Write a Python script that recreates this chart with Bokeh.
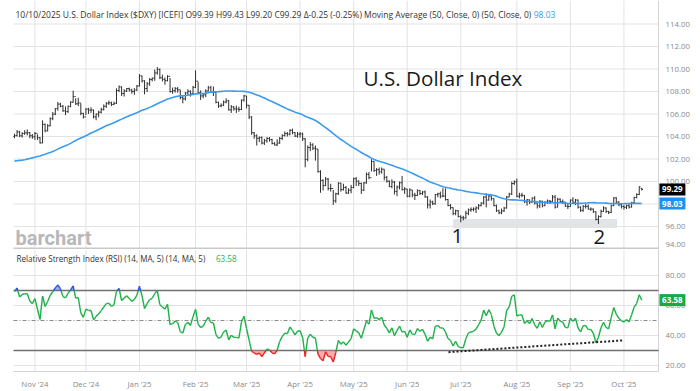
import numpy as np
from bokeh.plotting import figure
from bokeh.layouts import column
from bokeh.models import Label, BoxAnnotation, Range1d, ColumnDataSource
from bokeh.core.properties import value
from bokeh.embed import file_html
from bokeh.resources import INLINE

# ---------------- data ----------------
month_labels = ["Nov '24", "Dec '24", "Jan '25", "Feb '25", "Mar '25", "Apr '25",
                "May '25", "Jun '25", "Jul '25", "Aug '25", "Sep '25", "Oct '25"]
month_start_bar = [8, 28, 49, 71, 91, 112, 133, 154, 175, 197, 218, 239]
price_ticks = [94, 96, 98, 100, 102, 104, 106, 108, 110, 112, 114]
rsi_ticks = [20, 40, 60, 80]

# closes before the first visible bar (warm-up for the 50-day average and RSI)
prior_closes = [103.14, 102.62, 102.63, 103.04, 102.42, 101.86, 101.43, 101.09, 101.50, 100.72,
                100.87, 100.54, 101.09, 101.35, 101.70, 101.83, 101.36, 101.10, 101.18, 101.63,
                101.63, 101.68, 101.35, 101.11, 100.75, 100.89, 100.62, 101.37, 100.72, 100.85,
                100.36, 100.92, 100.56, 100.38, 100.78, 101.20, 101.68, 101.99, 102.52, 102.54,
                102.53, 102.90, 102.99, 102.89, 103.29, 103.25, 103.58, 103.83, 103.49, 104.01]

closes = [
    104.08, 104.41, 104.06, 104.26, 104.32, 104.33, 104.07, 103.97,
    104.28, 103.89, 103.43, 105.08, 104.51, 104.95, 105.59, 105.99, 106.48, 106.88, 106.69, 106.28,
    106.21, 106.68, 107.05, 107.55, 106.91, 106.98, 106.06, 105.74,
    106.44, 106.35, 106.35, 105.74, 105.99, 106.16, 106.41, 106.69, 106.96, 106.99, 106.84, 106.95,
    108.09, 108.41, 107.82, 108.04, 108.26, 108.13, 108.00, 108.13, 108.49,
    109.39, 108.95, 108.26, 108.68, 109.06, 109.18, 109.65, 109.96, 109.22, 109.08, 108.96, 109.35,
    108.00, 108.07, 108.25, 108.15, 107.46, 107.35, 107.87, 108.02, 107.80, 108.37,
    108.92, 107.91, 107.61, 107.70, 108.04, 108.33, 107.96, 107.94, 107.04, 106.71, 106.78, 107.06,
    107.17, 106.37, 106.63, 106.45, 106.45, 106.40, 107.24, 107.61,
    106.78, 105.74, 104.33, 104.06, 103.84, 103.91, 103.42, 103.62, 103.82, 103.72, 103.38, 103.25,
    103.42, 103.83, 104.09, 104.26, 104.21, 104.55, 104.34, 104.04, 104.21,
    104.23, 103.80, 101.96, 103.02, 103.26, 102.96, 102.89, 100.87, 100.10, 99.64, 100.22, 99.38,
    99.38, 98.28, 98.91, 99.85, 99.28, 99.47, 98.98, 99.23, 99.47,
    100.25, 100.03, 99.83, 99.23, 99.88, 100.63, 100.34, 101.79, 100.99, 101.05, 100.86, 101.09,
    100.37, 100.03, 99.55, 99.95, 99.11, 99.51, 99.89, 99.28, 99.33,
    98.69, 99.25, 98.81, 98.76, 99.19, 98.94, 99.07, 98.63, 97.92, 98.18, 98.02, 98.84,
    98.90, 98.70, 98.71, 98.40, 97.86, 97.68, 97.16, 97.40, 96.88,
    96.78, 96.76, 97.18, 97.47, 97.52, 97.55, 97.65, 97.85, 98.08, 98.62, 98.35, 98.71,
    98.48, 97.85, 97.40, 97.21, 97.38, 97.64, 98.62, 98.89, 99.82, 99.97,
    98.69, 98.78, 98.77, 98.19, 98.38, 98.18, 98.52, 98.09, 97.84, 98.24, 97.85, 98.17,
    98.27, 98.23, 98.62, 97.72, 98.43, 98.22, 98.16, 97.80, 97.77,
    98.35, 98.15, 98.35, 97.72, 97.44, 97.79, 97.79, 97.54, 97.55, 97.31, 96.63, 96.88,
    97.35, 97.65, 97.33, 97.25, 97.86, 98.55, 98.18, 97.93, 97.78,
    97.71, 97.85, 97.72, 98.11, 98.58, 98.85, 99.54, 99.29]

opens = [
    104.01, 104.08, 104.41, 104.06, 104.26, 104.32, 104.33, 104.07,
    103.97, 104.28, 103.89, 103.43, 105.08, 104.51, 104.95, 105.59, 105.99, 106.48, 106.88, 106.69,
    106.28, 106.21, 106.68, 107.05, 107.55, 106.91, 106.98, 106.06,
    105.74, 106.44, 106.35, 106.35, 105.74, 105.99, 106.16, 106.41, 106.69, 106.96, 106.99, 106.84,
    106.95, 108.09, 108.41, 107.82, 108.04, 108.26, 108.13, 108.00, 108.13,
    108.49, 109.39, 108.95, 108.26, 108.68, 109.06, 109.18, 109.65, 109.96, 109.22, 109.08, 108.96,
    109.35, 108.00, 108.07, 108.25, 108.15, 107.46, 107.35, 107.87, 108.02, 107.80,
    108.37, 108.92, 107.91, 107.61, 107.70, 108.04, 108.33, 107.96, 107.94, 107.04, 106.71, 106.78,
    107.06, 107.17, 106.37, 106.63, 106.45, 106.45, 106.40, 107.24,
    107.61, 106.78, 105.74, 104.33, 104.06, 103.84, 103.91, 103.42, 103.62, 103.82, 103.72, 103.38,
    103.25, 103.42, 103.83, 104.09, 104.26, 104.21, 104.55, 104.34, 104.04,
    104.21, 104.23, 103.80, 101.96, 103.02, 103.26, 102.96, 102.89, 100.87, 100.10, 99.64, 100.22,
    99.38, 99.38, 98.28, 98.91, 99.85, 99.28, 99.47, 98.98, 99.23,
    99.47, 100.25, 100.03, 99.83, 99.23, 99.88, 100.63, 100.34, 101.79, 100.99, 101.05, 100.86,
    101.09, 100.37, 100.03, 99.55, 99.95, 99.11, 99.51, 99.89, 99.28,
    99.33, 98.69, 99.25, 98.81, 98.76, 99.19, 98.94, 99.07, 98.63, 97.92, 98.18, 98.02,
    98.84, 98.90, 98.70, 98.71, 98.40, 97.86, 97.68, 97.16, 97.40,
    96.88, 96.78, 96.76, 97.18, 97.47, 97.52, 97.55, 97.65, 97.85, 98.08, 98.62, 98.35,
    98.71, 98.48, 97.85, 97.40, 97.21, 97.38, 97.64, 98.62, 98.89, 99.82,
    99.97, 98.69, 98.78, 98.77, 98.19, 98.38, 98.18, 98.52, 98.09, 97.84, 98.24, 97.85,
    98.17, 98.27, 98.23, 98.62, 97.72, 98.43, 98.22, 98.16, 97.80,
    97.77, 98.35, 98.15, 98.35, 97.72, 97.44, 97.79, 97.79, 97.54, 97.55, 97.31, 96.63,
    96.88, 97.35, 97.65, 97.33, 97.25, 97.86, 98.55, 98.18, 97.93,
    97.78, 97.71, 97.85, 97.72, 98.11, 98.58, 98.85, 99.39]

highs = [
    104.25, 104.57, 104.50, 104.38, 104.57, 104.63, 104.40, 104.22,
    104.40, 104.20, 103.95, 105.44, 105.15, 105.10, 105.70, 106.17, 106.53, 107.07, 107.00, 106.80,
    106.67, 106.75, 107.13, 108.07, 107.40, 107.45, 106.95, 106.10,
    106.51, 106.55, 106.60, 106.40, 106.05, 106.30, 106.55, 106.85, 107.05, 107.18, 107.10, 107.10,
    108.27, 108.54, 108.45, 108.20, 108.30, 108.35, 108.24, 108.30, 108.58,
    109.54, 109.40, 109.00, 108.85, 109.20, 109.25, 109.95, 110.18, 110.05, 109.50, 109.25, 109.45,
    109.20, 108.35, 108.40, 108.40, 108.15, 107.65, 107.95, 108.20, 108.10, 108.50,
    109.88, 108.85, 108.10, 107.85, 108.20, 108.50, 108.50, 108.45, 107.95, 107.10, 106.95, 107.20,
    107.40, 107.25, 106.80, 106.70, 106.75, 106.65, 107.30, 107.70,
    107.60, 106.80, 105.80, 104.40, 104.20, 104.00, 104.00, 103.80, 103.95, 103.95, 103.80, 103.50,
    103.75, 103.95, 104.20, 104.45, 104.40, 104.65, 104.70, 104.40, 104.40,
    104.40, 104.35, 103.85, 103.20, 103.50, 103.40, 103.20, 102.90, 101.00, 100.20, 100.40, 100.30,
    99.80, 99.25, 99.00, 99.95, 99.90, 99.80, 99.60, 99.40, 99.70,
    100.35, 100.40, 100.10, 99.90, 99.95, 100.80, 100.85, 101.98, 101.80, 101.20, 101.25, 101.25,
    101.10, 100.50, 100.10, 100.20, 100.05, 99.65, 100.00, 100.50, 99.50,
    99.35, 99.40, 99.25, 99.00, 99.30, 99.25, 99.15, 99.20, 98.70, 98.40, 98.30, 98.90,
    99.00, 99.10, 99.40, 99.40, 98.45, 98.00, 97.70, 97.50, 97.45,
    97.00, 96.95, 97.40, 97.60, 97.70, 97.70, 97.80, 98.00, 98.15, 98.70, 98.95, 98.80,
    98.75, 98.50, 97.95, 97.50, 97.60, 97.75, 98.70, 99.00, 99.99, 100.10,
    100.26, 99.00, 99.00, 98.80, 98.45, 98.40, 98.60, 98.70, 98.10, 98.35, 98.30, 98.25,
    98.40, 98.35, 98.80, 98.80, 98.55, 98.50, 98.40, 98.20, 98.05,
    98.40, 98.60, 98.45, 98.40, 97.80, 97.90, 98.00, 97.95, 97.70, 97.60, 97.35, 97.00,
    97.50, 97.80, 97.70, 97.40, 97.95, 98.60, 98.60, 98.25, 98.10,
    97.90, 97.95, 98.00, 98.20, 98.65, 98.95, 99.56, 99.43]

lows = [
    103.85, 104.00, 103.95, 103.90, 104.15, 104.10, 103.85, 103.80,
    103.70, 103.70, 103.37, 103.40, 104.37, 104.45, 104.90, 105.45, 105.90, 106.30, 106.60, 106.20,
    105.90, 106.10, 106.60, 107.00, 106.80, 106.70, 105.90, 105.60,
    105.90, 106.00, 106.10, 105.60, 105.45, 105.70, 106.05, 106.30, 106.55, 106.80, 106.70, 106.80,
    106.90, 107.95, 107.60, 107.55, 107.95, 108.00, 107.80, 107.70, 108.05,
    108.45, 108.80, 107.75, 107.95, 108.50, 108.90, 108.95, 109.50, 109.10, 108.90, 108.60, 108.90,
    107.90, 107.80, 107.90, 107.90, 107.30, 106.95, 107.20, 107.70, 107.55, 107.75,
    108.30, 107.80, 107.25, 107.40, 107.50, 108.00, 107.90, 107.60, 106.95, 106.55, 106.60, 106.70,
    106.95, 106.30, 106.10, 106.30, 106.10, 106.20, 106.35, 107.10,
    106.50, 105.55, 104.15, 103.80, 103.20, 103.50, 103.30, 103.25, 103.45, 103.55, 103.30, 103.20,
    103.15, 103.35, 103.70, 104.00, 104.00, 104.10, 104.20, 103.95, 103.90,
    103.90, 103.60, 101.26, 101.80, 102.70, 102.80, 101.85, 100.80, 99.00, 99.20, 99.60, 99.20,
    99.10, 97.92, 98.10, 98.80, 99.10, 99.20, 98.90, 98.90, 98.95,
    99.40, 99.60, 99.60, 98.90, 99.15, 99.80, 100.20, 100.90, 100.85, 100.50, 100.60, 100.70,
    100.10, 99.90, 99.50, 99.40, 98.85, 98.70, 99.30, 99.20, 98.90,
    98.60, 98.60, 98.60, 98.35, 98.70, 98.80, 98.80, 98.55, 97.60, 97.60, 97.90, 97.95,
    98.60, 98.50, 98.60, 98.30, 97.80, 97.50, 97.00, 97.00, 96.80,
    96.37, 96.55, 96.70, 97.00, 97.30, 97.35, 97.20, 97.50, 97.80, 97.95, 97.70, 98.30,
    98.30, 97.80, 97.30, 97.10, 97.10, 97.30, 97.60, 98.60, 98.80, 99.70,
    98.60, 98.50, 98.60, 98.10, 97.85, 98.00, 98.10, 97.95, 97.60, 97.65, 97.70, 97.80,
    98.00, 98.00, 98.20, 97.60, 97.70, 98.10, 98.00, 97.75, 97.55,
    97.75, 98.10, 97.90, 97.60, 97.30, 97.30, 97.60, 97.50, 97.40, 97.20, 96.55, 96.22,
    96.80, 97.30, 97.20, 97.10, 97.20, 97.80, 98.10, 97.80, 97.60,
    97.50, 97.55, 97.60, 97.70, 98.00, 98.50, 98.80, 99.20]

ma_period = 50
rsi_period = 14
header_main = ("10/10/2025 U.S. Dollar Index ($DXY) [ICEFI] O99.39 H99.43 L99.20 C99.29 "
               "\u0394-0.25 (-0.25%) Moving Average (50, Close, 0)  (50, Close, 0)")
header_ma_value = "98.03"
rsi_title = "Relative Strength Index (RSI) (14, MA, 5)  (14, MA, 5)"
rsi_value = "63.58"
last_close_label = "99.29"
rsi_last = 63.58

# ---------------- derived indicators ----------------
all_c = np.array(prior_closes + closes, dtype=float)
n_prior = len(prior_closes)
N = len(closes)
bars = np.arange(N)
ma = np.array([all_c[n_prior + i - ma_period + 1: n_prior + i + 1].mean() for i in range(N)])

d = np.diff(all_c)
gain = np.where(d > 0, d, 0.0)
loss = np.where(d < 0, -d, 0.0)
ag = gain[:rsi_period].mean()
al = loss[:rsi_period].mean()
rsi_all = [np.nan] * (rsi_period + 1)
for k in range(rsi_period, len(d)):
    ag = (ag * (rsi_period - 1) + gain[k]) / rsi_period
    al = (al * (rsi_period - 1) + loss[k]) / rsi_period
    rsi_all.append(100 - 100 / (1 + ag / al) if al > 0 else 100)
rsi_all = np.array(rsi_all[:len(all_c)])
rsi = rsi_all[n_prior:]

# ---------------- layout constants ----------------
FONT = "Open Sans"
GRID = "#e3e3e3"
AXIS_LINE = "#d4d4d4"
AXIS_TXT = "#8a8a8a"
BLUE = "#3b9bef"
GREEN = "#1fb14a"

W = 700
H_TOP, H_RSI = 249, 142
PX_BAR = 2.55            # pixels per bar
PX_PRICE = 11.25         # pixels per index point
PX_RSI = 1.5             # pixels per RSI point
X0 = -14 / PX_BAR
X1 = X0 + W / PX_BAR
PLOT_L, PLOT_R = -0.39, 252.55
LABEL_X = 255.3
TAG_X, TAG_W = 258.0, 10.2
PY_TOP = 116.089
PY_BOT = PY_TOP - H_TOP / PX_PRICE
RY_TOP = 97.33
RY_BOT = RY_TOP - H_RSI / PX_RSI
R_PLOT_BOT = 16.0
DATE_Y = 7.6


def make_fig(h, yr):
    f = figure(width=W, height=h, x_range=Range1d(X0, X1), y_range=Range1d(*yr),
               output_backend="svg", toolbar_location=None, x_axis_location=None,
               y_axis_location=None, min_border=0, outline_line_color=None)
    f.grid.visible = False
    return f


# ---------------- price panel ----------------
p = make_fig(H_TOP, (PY_BOT, PY_TOP))
n_pt = len(price_ticks)
p.segment(x0=[PLOT_L] * n_pt, y0=price_ticks, x1=[PLOT_R] * n_pt, y1=price_ticks,
          line_color=GRID, line_width=1)
p.segment(x0=month_start_bar, y0=[PY_BOT] * 12, x1=month_start_bar, y1=[PY_TOP] * 12,
          line_color=GRID, line_width=1)
p.segment(x0=[PLOT_R], y0=[PY_BOT], x1=[PLOT_R], y1=[PY_TOP], line_color=AXIS_LINE, line_width=1)
# keep the lowest tick label inside the panel (it sits on the panel edge)
label_y = [max(t, PY_BOT + 0.45) for t in price_ticks]
p.text(x=[LABEL_X] * n_pt, y=label_y, text=["%.2f" % t for t in price_ticks],
       text_font=value(FONT), text_font_size="7.8px", text_color=AXIS_TXT,
       text_baseline="middle", text_align="left")

# support zone
box = dict(left=172.2, right=236.1, bottom=95.91, top=96.62)
p.add_layout(BoxAnnotation(left=box["left"], right=box["right"], bottom=box["bottom"], top=box["top"],
                           fill_color="#e4e4e4", fill_alpha=1.0, line_color="#5aa0e6",
                           line_dash="1 1", line_width=1, level="underlay"))

src = ColumnDataSource(dict(x=bars, o=opens, h=highs, l=lows, c=closes,
                            xl=bars - 0.45, xr=bars + 0.45))
bar_col = "#2e2e2e"
p.segment(x0="x", y0="l", x1="x", y1="h", source=src, line_color=bar_col, line_width=1)
p.segment(x0="xl", y0="o", x1="x", y1="o", source=src, line_color=bar_col, line_width=1)
p.segment(x0="x", y0="c", x1="xr", y1="c", source=src, line_color=bar_col, line_width=1)
p.line(bars, ma, line_color=BLUE, line_width=1.6)

p.add_layout(Label(x=173.7, y=95.2, text="1", text_font=FONT, text_font_size="20.5px",
                   text_color="#1a1a1a", text_align="center", text_baseline="middle"))
p.add_layout(Label(x=229.4, y=95.05, text="2", text_font=FONT, text_font_size="20.5px",
                   text_color="#1a1a1a", text_align="center", text_baseline="middle"))
p.add_layout(Label(x=136.9, y=109.24, text="U.S. Dollar Index", text_font=FONT,
                   text_font_size="20.6px", text_color="#1a1a1a", text_baseline="middle"))
p.add_layout(Label(x=0.39, y=114.84, text=header_main, text_font=FONT, text_font_size="8.5px",
                   text_color="#333333", text_baseline="middle"))
p.add_layout(Label(x=203.6, y=114.84, text=header_ma_value, text_font=FONT, text_font_size="8.5px",
                   text_color=BLUE, text_baseline="middle"))
p.add_layout(Label(x=0.39, y=94.98, text="barchart", text_font="Roboto", text_font_size="20px",
                   text_font_style="bold", text_color="#b8b8b8", text_baseline="middle"))
# panel separator
p.segment(x0=[PLOT_L], y0=[PY_BOT + 0.09], x1=[PLOT_R], y1=[PY_BOT + 0.09],
          line_color="#c9c9c9", line_width=2)

# last-value tags on the price scale
tag_y = [closes[-1], ma[-1]]
p.rect(x=[TAG_X] * 2, y=tag_y, width=TAG_W, height=12 / PX_PRICE,
       fill_color=["black", "#1e90f0"], line_color=None)
p.text(x=[TAG_X] * 2, y=tag_y, text=[last_close_label, header_ma_value], text_font=value(FONT),
       text_font_size="8px", text_font_style="bold", text_color="white",
       text_align="center", text_baseline="middle")

# ---------------- RSI panel ----------------
r = make_fig(H_RSI, (RY_BOT, RY_TOP))
n_rt = len(rsi_ticks)
r.segment(x0=[PLOT_L] * n_rt, y0=rsi_ticks, x1=[PLOT_R] * n_rt, y1=rsi_ticks,
          line_color=GRID, line_width=1)
r.segment(x0=month_start_bar, y0=[R_PLOT_BOT] * 12, x1=month_start_bar, y1=[RY_TOP] * 12,
          line_color=GRID, line_width=1)
r.segment(x0=[PLOT_R], y0=[R_PLOT_BOT], x1=[PLOT_R], y1=[RY_TOP], line_color=AXIS_LINE, line_width=1)
r.segment(x0=[PLOT_L], y0=[R_PLOT_BOT], x1=[PLOT_R], y1=[R_PLOT_BOT], line_color=AXIS_LINE,
          line_width=1)
r.text(x=[LABEL_X] * n_rt, y=rsi_ticks, text=["%.2f" % t for t in rsi_ticks],
       text_font=value(FONT), text_font_size="7.8px", text_color=AXIS_TXT,
       text_baseline="middle", text_align="left")
r.text(x=month_start_bar, y=[DATE_Y] * 12, text=month_labels, text_font=value(FONT),
       text_font_size="7.8px", text_color=AXIS_TXT, text_baseline="middle", text_align="center")

r.segment(x0=[PLOT_L] * 2, y0=[70, 30], x1=[PLOT_R] * 2, y1=[70, 30],
          line_color="#707070", line_width=1.4)
r.segment(x0=[PLOT_L], y0=[50], x1=[PLOT_R], y1=[50], line_color="#8a8a8a", line_width=1,
          line_dash="4 2 1 2")

# split RSI path at the 70 / 30 levels for colouring
dx, dy = [], []
sx0, sy0, sx1, sy1, scol = [], [], [], [], []
for i in range(N - 1):
    xa, ya, xb, yb = bars[i], rsi[i], bars[i + 1], rsi[i + 1]
    pts = [(float(xa), float(ya))]
    for lvl in (70, 30):
        if (ya - lvl) * (yb - lvl) < 0:
            t = (lvl - ya) / (yb - ya)
            pts.append((xa + t * (xb - xa), float(lvl)))
    pts.sort()
    pts.append((float(xb), float(yb)))
    for (xq0, yq0), (xq1, yq1) in zip(pts[:-1], pts[1:]):
        mid = (yq0 + yq1) / 2
        sx0.append(xq0); sy0.append(yq0); sx1.append(xq1); sy1.append(yq1)
        scol.append("#2b55e0" if mid > 70 else ("#f02020" if mid < 30 else GREEN))
    for pt in pts[:-1]:
        dx.append(pt[0]); dy.append(pt[1])
dx.append(float(bars[-1])); dy.append(float(rsi[-1]))
dx = np.array(dx); dy = np.array(dy)
r.varea(x=dx, y1=np.full_like(dy, 70.0), y2=np.maximum(dy, 70), fill_color="#4a6fe3", fill_alpha=0.55)
r.varea(x=dx, y1=np.minimum(dy, 30), y2=np.full_like(dy, 30.0), fill_color="#f58a8a", fill_alpha=0.7)
r.segment(x0=sx0, y0=sy0, x1=sx1, y1=sy1, line_color=scol, line_width=1.4)

trend = dict(x0=170.2, y0=28.9, x1=238.4, y1=36.7)
r.segment(x0=[trend["x0"]], y0=[trend["y0"]], x1=[trend["x1"]], y1=[trend["y1"]],
          line_color="#222222", line_width=2, line_dash="2 2")

r.add_layout(Label(x=0.78, y=91.33, text=rsi_title, text_font=FONT, text_font_size="8.1px",
                   text_color="#333333", text_baseline="middle"))
r.add_layout(Label(x=79.0, y=91.33, text=rsi_value, text_font=FONT, text_font_size="8.1px",
                   text_color=GREEN, text_baseline="middle"))
r.rect(x=[TAG_X], y=[rsi_last], width=TAG_W, height=12 / PX_RSI, fill_color="#18a845",
       line_color=None)
r.text(x=[TAG_X], y=[rsi_last], text=[rsi_value], text_font=value(FONT), text_font_size="8px",
       text_font_style="bold", text_color="white", text_align="center", text_baseline="middle")

layout = column(p, r, spacing=0)
open("out.html", "w").write(file_html(layout, INLINE))
